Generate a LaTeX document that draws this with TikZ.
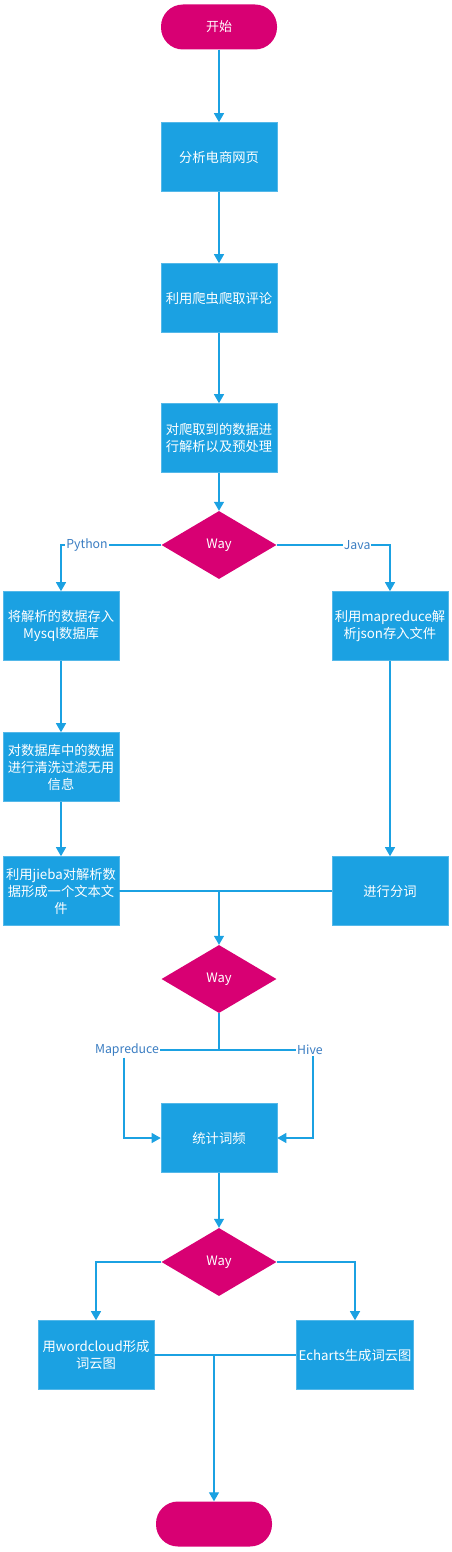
\documentclass[tikz,border=0pt]{standalone}
\usepackage{fontspec}
\setmainfont{Noto Sans CJK SC}
\usetikzlibrary{shapes.geometric,arrows.meta}
\definecolor{metroblue}{HTML}{1BA1E2}
\definecolor{metromagenta}{HTML}{D80073}
\definecolor{linkblue}{HTML}{3A7DC2}
\begin{document}
\begin{tikzpicture}[x=1pt,y=-1pt]
    \tikzstyle{term}=[rectangle,rounded corners=22pt,fill=metromagenta,text=white,minimum width=116pt,minimum height=45pt,font=\fontsize{13}{16}\selectfont]
    \tikzstyle{proc}=[rectangle,fill=metroblue,draw=metroblue!75,line width=0.6pt,text=white,minimum width=116pt,minimum height=69pt,inner sep=2pt,align=center,font=\fontsize{13.3}{17}\selectfont]
    \tikzstyle{way}=[diamond,fill=metromagenta,text=white,minimum width=115pt,minimum height=68pt,inner sep=0pt,font=\fontsize{13}{16}\selectfont]
    \tikzstyle{flow}=[draw=metroblue,line width=1.2pt]
    \tikzstyle{arr}=[flow,-{Triangle[width=10pt,length=9pt]}]
    \tikzstyle{lbl}=[fill=white,text=linkblue,inner sep=1pt,font=\fontsize{12.3}{14}\selectfont]
    \useasboundingbox (0,0) rectangle (451,1552);
    % main column
    \node[term] (start) at (219,27) {开始};
    \node[proc] (page) at (219,157) {分析电商网页};
    \node[proc] (crawl) at (219,298) {利用爬虫爬取评论};
    \node[proc] (prep) at (219,438) {对爬取到的数据进\\行解析以及预处理};
    \node[way] (way1) at (219,545) {Way};
    % python branch
    \node[proc] (mysql) at (61,626) {将解析的数据存入\\Mysql数据库};
    \node[proc] (clean) at (61,767) {对数据库中的数据\\进行清洗过滤无用\\信息};
    \node[proc] (jieba) at (61,891) {利用jieba对解析数\\据形成一个文本文\\件};
    % java branch
    \node[proc] (mr) at (390,626) {利用mapreduce解\\析json存入文件};
    \node[proc] (split) at (390,891) {进行分词};
    % counting
    \node[way] (way2) at (219,979) {Way};
    \node[lbl] (mrlbl) at (127,1050) {Mapreduce};
    \node[lbl] (hivelbl) at (310,1050) {Hive};
    \node[proc] (count) at (219,1138) {统计词频};
    \node[way] (way3) at (219,1262) {Way};
    % word clouds
    \node[proc] (wc) at (96,1355) {用wordcloud形成\\词云图};
    \node[proc] (ec) at (355,1355) {Echarts生成词云图};
    \node[term] (stop) at (214,1524) {};

    \draw[arr] (start) -- (page);
    \draw[arr] (page) -- (crawl);
    \draw[arr] (crawl) -- (prep);
    \draw[arr] (prep) -- (way1);
    \draw[arr] (way1.west) -| node[lbl,pos=0.37] {Python} (mysql.north);
    \draw[arr] (way1.east) -| node[lbl,pos=0.355] {Java} (mr.north);
    \draw[arr] (mysql) -- (clean);
    \draw[arr] (clean) -- (jieba);
    \draw[arr] (mr) -- (split);
    \draw[flow] (jieba.east) -- (split.west);
    \draw[arr] (jieba.east -| way2.north) -- (way2.north);
    \draw[flow] (way2.south) -- (way2.south |- mrlbl);
    \draw[flow] (mrlbl.east) -- (hivelbl.west);
    \draw[arr] ([xshift=-3pt]mrlbl.south) |- (count.west);
    \draw[arr] ([xshift=3pt]hivelbl.south) |- (count.east);
    \draw[arr] (count) -- (way3);
    \draw[arr] (way3.west) -| (wc.north);
    \draw[arr] (way3.east) -| (ec.north);
    \draw[flow] (wc.east) -- (ec.west);
    \draw[arr] (wc.east -| stop.north) -- (stop.north);
\end{tikzpicture}
\end{document}
